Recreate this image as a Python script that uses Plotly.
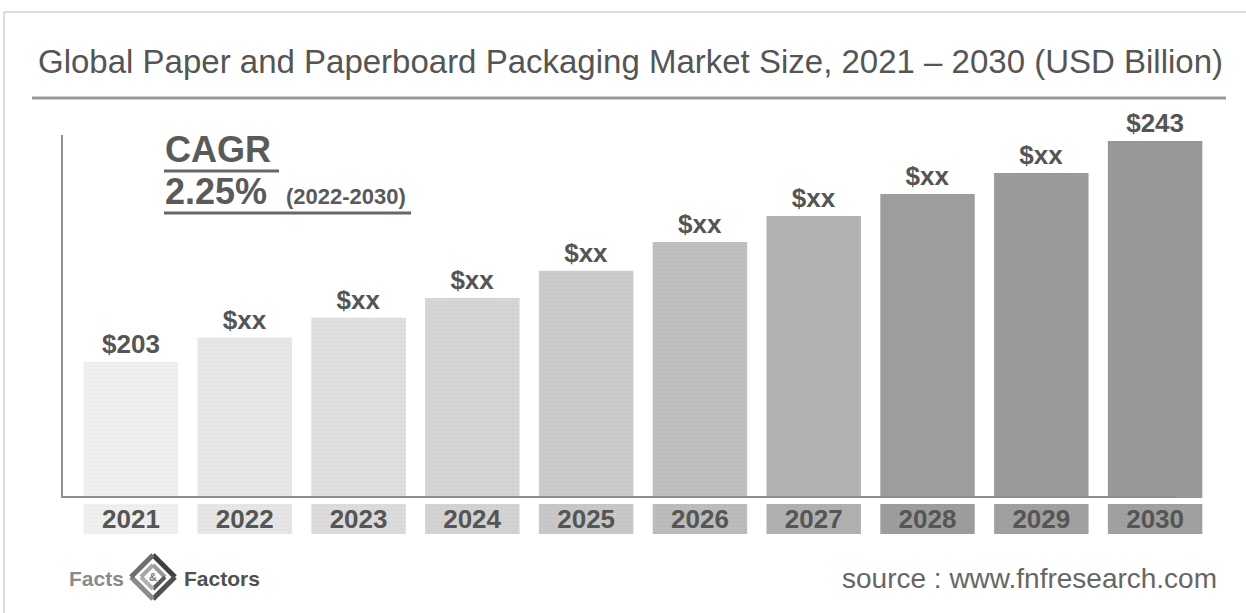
import plotly.graph_objects as go

W, H = 1246, 613

years = ["2021", "2022", "2023", "2024", "2025", "2026", "2027", "2028", "2029", "2030"]
values = [203, 207.4, 211.0, 214.6, 219.5, 224.7, 229.4, 233.4, 237.2, 243]
value_labels = ["$203", "$xx", "$xx", "$xx", "$xx", "$xx", "$xx", "$xx", "$xx", "$243"]
bar_colors = ["#f0f0f0", "#e7e7e7", "#dfdfdf", "#d6d6d6", "#cbcbcb",
              "#c0c0c0", "#b3b3b3", "#9e9e9e", "#9b9b9b", "#999999"]
box_colors = ["#f0f0f0", "#e6e6e6", "#dcdcdc", "#d3d3d3", "#c8c8c8",
              "#bcbcbc", "#b0b0b0", "#9d9d9d", "#a0a0a0", "#a0a0a0"]
box_height = [1] * len(years)

title_text = "Global Paper and Paperboard Packaging Market Size, 2021 – 2030 (USD Billion)"
cagr_value = "2.25%"
cagr_period = "(2022-2030)"
source_text = "source : www.fnfresearch.com"

FONT = "Liberation Sans, Arial, sans-serif"
TXT = "#555555"


def px(x):
    return x / W


def py(y):
    return 1 - y / H


fig = go.Figure()

fig.add_trace(go.Bar(
    x=years, y=values, text=value_labels, textposition="outside",
    marker=dict(color=bar_colors, line=dict(width=0),
                pattern=dict(shape=".", size=4, solidity=0.15, fgcolor="#8a8a8a", fgopacity=0.07)),
    textfont=dict(family=FONT, size=26, color=TXT, weight="bold"),
    cliponaxis=False, width=0.83, constraintext="none",
    hoverinfo="skip", showlegend=False,
))

fig.add_trace(go.Bar(
    x=years, y=box_height, text=years, textposition="inside",
    insidetextanchor="middle", yaxis="y2",
    marker=dict(color=box_colors, line=dict(width=0),
                pattern=dict(shape=".", size=4, solidity=0.15, fgcolor="#8a8a8a", fgopacity=0.07)),
    textfont=dict(family=FONT, size=26, color=TXT, weight="bold"),
    width=0.83, constraintext="none",
    hoverinfo="skip", showlegend=False,
))

shapes = []
# outer frame
shapes.append(dict(type="line", xref="paper", yref="paper", x0=px(4), x1=1, y0=py(12), y1=py(12),
                   line=dict(color="#bdbdbd", width=1)))
shapes.append(dict(type="line", xref="paper", yref="paper", x0=px(4), x1=px(4), y0=py(12), y1=0,
                   line=dict(color="#bdbdbd", width=1)))
# title rule
shapes.append(dict(type="line", xref="paper", yref="paper", x0=px(32), x1=px(1226), y0=py(98), y1=py(98),
                   line=dict(color="#9a9a9a", width=3)))
# axis lines
shapes.append(dict(type="line", xref="paper", yref="paper", x0=px(62), x1=px(62), y0=py(135), y1=py(498),
                   line=dict(color="#8f8f8f", width=2)))
shapes.append(dict(type="line", xref="paper", yref="paper", x0=px(62), x1=px(1176), y0=py(497), y1=py(497),
                   line=dict(color="#8f8f8f", width=2)))
# CAGR underlines
shapes.append(dict(type="line", xref="paper", yref="paper", x0=px(164), x1=px(279), y0=py(171), y1=py(171),
                   line=dict(color="#666666", width=3)))
shapes.append(dict(type="line", xref="paper", yref="paper", x0=px(164), x1=px(411), y0=py(213), y1=py(213),
                   line=dict(color="#666666", width=3)))

# logo icon (diamond of brackets)
cx, cy, r = 153, 577, 22
pts = [(cx, cy - r), (cx + r, cy), (cx, cy + r), (cx - r, cy)]
cols = ["#3f3f3f", "#4f4f4f", "#8a8a8a", "#6f6f6f"]
for i in range(4):
    a, b = pts[i], pts[(i + 1) % 4]
    shapes.append(dict(type="line", xref="paper", yref="paper",
                       x0=px(a[0]), y0=py(a[1]), x1=px(b[0]), y1=py(b[1]),
                       line=dict(color=cols[i], width=5)))
r2 = 12
pts2 = [(cx, cy - r2), (cx + r2, cy), (cx, cy + r2), (cx - r2, cy)]
cols2 = ["#9a9a9a", "#5a5a5a", "#b0b0b0", "#a5a5a5"]
for i in range(4):
    a, b = pts2[i], pts2[(i + 1) % 4]
    shapes.append(dict(type="line", xref="paper", yref="paper",
                       x0=px(a[0]), y0=py(a[1]), x1=px(b[0]), y1=py(b[1]),
                       line=dict(color=cols2[i], width=4)))

annotations = [
    dict(text=title_text, x=px(36), y=py(62), xref="paper", yref="paper", xanchor="left", yanchor="middle",
         showarrow=False, font=dict(family=FONT, size=33, color="#555555")),
    dict(text="CAGR", x=px(163), y=py(149), xref="paper", yref="paper", xanchor="left", yanchor="middle",
         showarrow=False, font=dict(family=FONT, size=36, color="#5a5a5a", weight="bold")),
    dict(text=cagr_value, x=px(163), y=py(191), xref="paper", yref="paper", xanchor="left", yanchor="middle",
         showarrow=False, font=dict(family=FONT, size=36, color="#5a5a5a", weight="bold")),
    dict(text=cagr_period, x=px(284), y=py(197), xref="paper", yref="paper", xanchor="left", yanchor="middle",
         showarrow=False, font=dict(family=FONT, size=22, color="#5a5a5a", weight="bold")),
    dict(text="Facts", x=px(67), y=py(578), xref="paper", yref="paper", xanchor="left", yanchor="middle",
         showarrow=False, font=dict(family=FONT, size=21, color="#8a8a8a", weight="bold")),
    dict(text="Factors", x=px(182), y=py(578), xref="paper", yref="paper", xanchor="left", yanchor="middle",
         showarrow=False, font=dict(family=FONT, size=21, color="#505050", weight="bold")),
    dict(text="&", x=px(cx), y=py(cy), xref="paper", yref="paper", xanchor="center", yanchor="middle",
         showarrow=False, font=dict(family=FONT, size=11, color="#777777", weight="bold")),
    dict(text=source_text, x=px(1219), y=py(578), xref="paper", yref="paper", xanchor="right", yanchor="middle",
         showarrow=False, font=dict(family=FONT, size=28, color="#666666")),
]

fig.update_layout(
    width=W, height=H,
    margin=dict(l=0, r=0, t=0, b=0),
    paper_bgcolor="white", plot_bgcolor="rgba(0,0,0,0)",
    xaxis=dict(domain=[px(62.7), px(1212)], range=[-0.6, 9.5], showticklabels=False,
               showgrid=False, zeroline=False, showline=False, ticks="", fixedrange=True),
    yaxis=dict(domain=[py(498), py(100)], range=[178.4, 250.4], showticklabels=False,
               showgrid=False, zeroline=False, showline=False, ticks="", fixedrange=True),
    yaxis2=dict(domain=[py(534), py(504)], range=[0, 1], anchor="x", showticklabels=False,
                showgrid=False, zeroline=False, showline=False, ticks="", fixedrange=True),
    shapes=shapes,
    annotations=annotations,
    showlegend=False,
)

fig.write_html("out.html", config={"displayModeBar": False},
               post_script="document.body.style.margin='0px';")
